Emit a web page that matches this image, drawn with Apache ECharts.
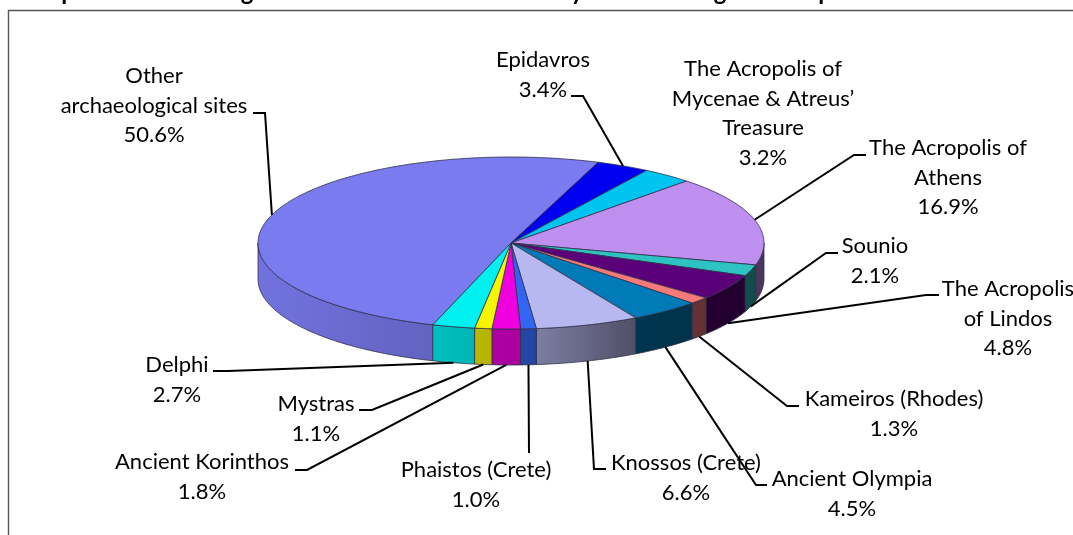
<!DOCTYPE html>
<html>
<head>
<meta charset="utf-8">
<style>
  html, body { margin: 0; padding: 0; background: #fff; }
  #chart { width: 1073px; height: 535px; }
</style>
<script src="https://cdn.jsdelivr.net/npm/echarts@6/dist/echarts.min.js"></script>
</head>
<body>
<div id="chart"></div>
<script>
// slices clockwise, starting from the big one
var sites = ['Other\narchaeological sites', 'Epidavros', 'The Acropolis of\nMycenae & Atreus\u2019\nTreasure', 'The Acropolis of\nAthens', 'Sounio', 'The Acropolis\nof Lindos', 'Kameiros (Rhodes)', 'Ancient Olympia', 'Knossos (Crete)', 'Phaistos (Crete)', 'Ancient Korinthos', 'Mystras', 'Delphi'];
var shares = [50.6, 3.4, 3.2, 16.9, 2.1, 4.8, 1.3, 4.5, 6.6, 1.0, 1.8, 1.1, 2.7];

var colors = ['#7b7bf0', '#0000f0', '#00c4f0', '#bf8ff0', '#2fc2c2', '#5a0078', '#f77a7a', '#007bb8', '#b8b8f0', '#3366f0', '#f000e0', '#f5f500', '#00f0f0'];

// label centre x, first line centre y
var labelX = [154, 543, 763, 948, 875, 1008, 894, 852, 686, 476, 202, 316, 177];
var labelY = [76, 60, 69, 148, 246, 289, 399, 479, 463, 470, 462, 404, 365];
// leader line: outer end x, elbow x, y (the pie end comes from the slice)
var leaders = [[253, 265, 113], [571, 583, 96], null, [866, 854, 155], [838, 826, 253], [939, 926, 295], [799, 787, 406], [767, 756, 485], [606, 594, 469], [529, 529, 453], [295, 307, 470], [359, 372, 410], [213, 228, 371]];

// the title is cut off by the page edge, only these descenders are left of it
var titleTails = [['p', 68], ['g', 247], ['y', 577], ['g', 720], ['p', 825]];

var CX = 511, CY = 243, RX = 253, RY = 86, DEPTH = 36;
var START = 198;
var TEXT_FONT = 'Lato, "Open Sans", sans-serif';

function pt(deg, dy) {
	var r = deg * Math.PI / 180;
	return [CX + RX * Math.sin(r), CY - RY * Math.cos(r) + (dy || 0)];
}

// start / end angle of each slice
var total = shares.reduce(function (a, b) { return a + b; }, 0);
var angles = [];
var acc = START;
for (var i = 0; i < shares.length; i++) {
	var sweep = shares[i] / total * 360;
	angles.push([acc, acc + sweep]);
	acc += sweep;
}

// how dark the side wall gets from left to right
var shadeStops = [[-1, 0.93], [-0.3, 0.8], [0.1, 0.68], [0.5, 0.43], [1, 0.38]];
function shadeAt(u) {
	for (var k = 1; k < shadeStops.length; k++) {
		if (u <= shadeStops[k][0]) {
			var a = shadeStops[k - 1], b = shadeStops[k];
			return a[1] + (b[1] - a[1]) * (u - a[0]) / (b[0] - a[0]);
		}
	}
	return shadeStops[shadeStops.length - 1][1];
}
function darken(hex, f) {
	var n = parseInt(hex.slice(1), 16);
	return 'rgb(' + Math.round((n >> 16 & 255) * f) + ',' + Math.round((n >> 8 & 255) * f) + ',' + Math.round((n & 255) * f) + ')';
}

function renderSide(params, api) {
	var i = api.value(0);
	var a0 = angles[i][0], a1 = angles[i][1];
	// only the part facing the viewer: 90-270, or the same range one turn on
	var from = Math.max(a0, 90), to = Math.min(a1, 270);
	if (to <= from) {
		from = Math.max(a0, 450);
		to = Math.min(a1, 630);
	}
	if (to <= from) return null;
	var upper = [], lower = [];
	for (var d = from; d < to; d += 1) {
		upper.push(pt(d));
		lower.unshift(pt(d, DEPTH));
	}
	upper.push(pt(to));
	lower.unshift(pt(to, DEPTH));
	var x0 = upper[0][0], x1 = upper[upper.length - 1][0];
	var stops = [];
	for (var s = 0; s <= 6; s++) {
		var xs = x0 + (x1 - x0) * s / 6;
		stops.push({ offset: s / 6, color: darken(colors[i], shadeAt((xs - CX) / RX)) });
	}
	return {
		type: 'polygon',
		shape: { points: upper.concat(lower) },
		style: {
			fill: { type: 'linear', x: x0, y: 0, x2: x1, y2: 0, global: true, colorStops: stops },
			stroke: '#30304a',
			lineWidth: 0.8
		}
	};
}

function renderTop(params, api) {
	var i = api.value(0);
	var pts = [[CX, CY]];
	for (var d = angles[i][0]; d < angles[i][1]; d += 1) pts.push(pt(d));
	pts.push(pt(angles[i][1]));
	return {
		type: 'polygon',
		shape: { points: pts },
		style: { fill: colors[i], stroke: '#30304a', lineWidth: 0.8 }
	};
}

function renderLabel(params, api) {
	var i = api.value(0);
	var children = [];
	if (leaders[i]) {
		var mid = (angles[i][0] + angles[i][1]) / 2;
		var n = ((mid % 360) + 360) % 360;
		var anchor = pt(mid, n > 90 && n < 270 ? DEPTH : 0);
		children.push({
			type: 'polyline',
			shape: { points: [[leaders[i][0], leaders[i][2]], [leaders[i][1], leaders[i][2]], anchor] },
			style: { stroke: '#000', lineWidth: 2, fill: null }
		});
	}
	var lines = (sites[i] + '\n' + shares[i].toFixed(1) + '%').split('\n');
	lines.forEach(function (line, k) {
		children.push({
			type: 'text',
			style: {
				text: line,
				x: labelX[i],
				y: labelY[i] + k * 29.6,
				align: 'center',
				verticalAlign: 'middle',
				font: '22px ' + TEXT_FONT,
				fill: '#000'
			}
		});
	});
	return { type: 'group', children: children };
}

var indexData = shares.map(function (v, i) { return [i, v]; });

var graphicList = [{
	type: 'polyline',
	shape: { points: [[8.5, 536], [8.5, 10.5], [1074, 10.5]] },
	style: { stroke: '#555', lineWidth: 1.4, fill: null },
	silent: true
}];
titleTails.forEach(function (t) {
	graphicList.push({
		type: 'text',
		silent: true,
		style: { text: t[0], x: t[1], y: 4, align: 'center', verticalAlign: 'bottom', font: 'bold 24px ' + TEXT_FONT, fill: '#000' }
	});
});

var myChart = echarts.init(document.getElementById('chart'));
myChart.setOption({
	animation: false,
	backgroundColor: '#fff',
	graphic: graphicList,
	series: [
		{ type: 'custom', coordinateSystem: 'none', silent: true, z: 2, renderItem: renderSide, data: indexData },
		{ type: 'custom', coordinateSystem: 'none', silent: true, z: 3, renderItem: renderTop, data: indexData },
		{ type: 'custom', coordinateSystem: 'none', silent: true, z: 4, renderItem: renderLabel, data: indexData }
	]
});
</script>
</body>
</html>
